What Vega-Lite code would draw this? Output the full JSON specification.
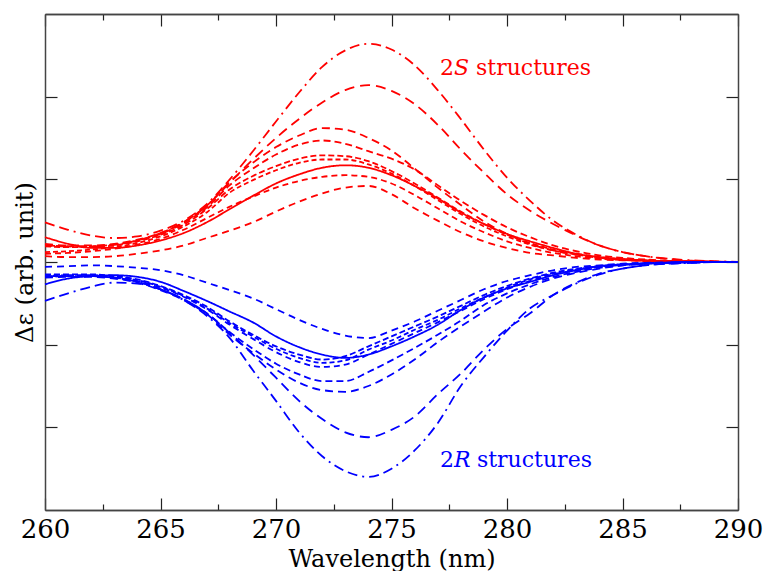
{
"$schema":"https://vega.github.io/schema/vega-lite/v6.json",
"width":693,"height":496,
"autosize":{"type":"none"},
"padding":{"left":45,"top":14,"right":26,"bottom":61},
"background":"white",
"config":{"view":{"stroke":null},"axis":{"labelFont":"DejaVu Serif","titleFont":"DejaVu Serif","labelFontSize":26,"titleFontSize":24,"labelColor":"#000","titleColor":"#000","titleFontWeight":"normal","domainColor":"#444","domainWidth":1.5,"tickColor":"#222","tickWidth":1.2,"grid":false,"labelFlush":false,"labelOverlap":false}},
"datasets":{
"curves":[
{"c":"rA","g":"S","x":260,"y":0.48},{"c":"rA","g":"S","x":261,"y":0.39},{"c":"rA","g":"S","x":262,"y":0.32},{"c":"rA","g":"S","x":263,"y":0.29},{"c":"rA","g":"S","x":264,"y":0.31},{"c":"rA","g":"S","x":265,"y":0.38},{"c":"rA","g":"S","x":266,"y":0.5},{"c":"rA","g":"S","x":267,"y":0.7},{"c":"rA","g":"S","x":268,"y":1.0},{"c":"rA","g":"S","x":269,"y":1.34},{"c":"rA","g":"S","x":270,"y":1.7},{"c":"rA","g":"S","x":271,"y":2.05},{"c":"rA","g":"S","x":272,"y":2.36},{"c":"rA","g":"S","x":273,"y":2.56},{"c":"rA","g":"S","x":274,"y":2.64},{"c":"rA","g":"S","x":275,"y":2.57},{"c":"rA","g":"S","x":276,"y":2.38},{"c":"rA","g":"S","x":277,"y":2.08},{"c":"rA","g":"S","x":278,"y":1.73},{"c":"rA","g":"S","x":279,"y":1.36},{"c":"rA","g":"S","x":280,"y":1.02},{"c":"rA","g":"S","x":281,"y":0.74},{"c":"rA","g":"S","x":282,"y":0.5},{"c":"rA","g":"S","x":283,"y":0.33},{"c":"rA","g":"S","x":284,"y":0.2},{"c":"rA","g":"S","x":285,"y":0.12},{"c":"rA","g":"S","x":286,"y":0.07},{"c":"rA","g":"S","x":287,"y":0.04},{"c":"rA","g":"S","x":288,"y":0.02},{"c":"rA","g":"S","x":289,"y":0.01},{"c":"rA","g":"S","x":290,"y":0},
{"c":"rB","g":"S","x":260,"y":0.2},{"c":"rB","g":"S","x":261,"y":0.19},{"c":"rB","g":"S","x":262,"y":0.19},{"c":"rB","g":"S","x":263,"y":0.21},{"c":"rB","g":"S","x":264,"y":0.26},{"c":"rB","g":"S","x":265,"y":0.35},{"c":"rB","g":"S","x":266,"y":0.48},{"c":"rB","g":"S","x":267,"y":0.68},{"c":"rB","g":"S","x":268,"y":0.96},{"c":"rB","g":"S","x":269,"y":1.24},{"c":"rB","g":"S","x":270,"y":1.5},{"c":"rB","g":"S","x":271,"y":1.73},{"c":"rB","g":"S","x":272,"y":1.93},{"c":"rB","g":"S","x":273,"y":2.08},{"c":"rB","g":"S","x":274,"y":2.14},{"c":"rB","g":"S","x":275,"y":2.07},{"c":"rB","g":"S","x":276,"y":1.91},{"c":"rB","g":"S","x":277,"y":1.66},{"c":"rB","g":"S","x":278,"y":1.36},{"c":"rB","g":"S","x":279,"y":1.08},{"c":"rB","g":"S","x":280,"y":0.82},{"c":"rB","g":"S","x":281,"y":0.62},{"c":"rB","g":"S","x":282,"y":0.46},{"c":"rB","g":"S","x":283,"y":0.32},{"c":"rB","g":"S","x":284,"y":0.2},{"c":"rB","g":"S","x":285,"y":0.12},{"c":"rB","g":"S","x":286,"y":0.07},{"c":"rB","g":"S","x":287,"y":0.035},{"c":"rB","g":"S","x":288,"y":0.015},{"c":"rB","g":"S","x":289,"y":0.005},{"c":"rB","g":"S","x":290,"y":0},
{"c":"rC","g":"S","x":260,"y":0.22},{"c":"rC","g":"S","x":261,"y":0.2},{"c":"rC","g":"S","x":262,"y":0.2},{"c":"rC","g":"S","x":263,"y":0.22},{"c":"rC","g":"S","x":264,"y":0.27},{"c":"rC","g":"S","x":265,"y":0.35},{"c":"rC","g":"S","x":266,"y":0.48},{"c":"rC","g":"S","x":267,"y":0.68},{"c":"rC","g":"S","x":268,"y":0.97},{"c":"rC","g":"S","x":269,"y":1.2},{"c":"rC","g":"S","x":270,"y":1.39},{"c":"rC","g":"S","x":271,"y":1.53},{"c":"rC","g":"S","x":272,"y":1.62},{"c":"rC","g":"S","x":273,"y":1.6},{"c":"rC","g":"S","x":274,"y":1.5},{"c":"rC","g":"S","x":275,"y":1.35},{"c":"rC","g":"S","x":276,"y":1.13},{"c":"rC","g":"S","x":277,"y":0.9},{"c":"rC","g":"S","x":278,"y":0.69},{"c":"rC","g":"S","x":279,"y":0.49},{"c":"rC","g":"S","x":280,"y":0.34},{"c":"rC","g":"S","x":281,"y":0.22},{"c":"rC","g":"S","x":282,"y":0.14},{"c":"rC","g":"S","x":283,"y":0.09},{"c":"rC","g":"S","x":284,"y":0.05},{"c":"rC","g":"S","x":285,"y":0.03},{"c":"rC","g":"S","x":286,"y":0.015},{"c":"rC","g":"S","x":287,"y":0.008},{"c":"rC","g":"S","x":288,"y":0.004},{"c":"rC","g":"S","x":289,"y":0},{"c":"rC","g":"S","x":290,"y":0},
{"c":"rD","g":"S","x":260,"y":0.2},{"c":"rD","g":"S","x":261,"y":0.19},{"c":"rD","g":"S","x":262,"y":0.19},{"c":"rD","g":"S","x":263,"y":0.21},{"c":"rD","g":"S","x":264,"y":0.26},{"c":"rD","g":"S","x":265,"y":0.34},{"c":"rD","g":"S","x":266,"y":0.47},{"c":"rD","g":"S","x":267,"y":0.66},{"c":"rD","g":"S","x":268,"y":0.93},{"c":"rD","g":"S","x":269,"y":1.13},{"c":"rD","g":"S","x":270,"y":1.3},{"c":"rD","g":"S","x":271,"y":1.42},{"c":"rD","g":"S","x":272,"y":1.47},{"c":"rD","g":"S","x":273,"y":1.43},{"c":"rD","g":"S","x":274,"y":1.34},{"c":"rD","g":"S","x":275,"y":1.25},{"c":"rD","g":"S","x":276,"y":1.12},{"c":"rD","g":"S","x":277,"y":0.93},{"c":"rD","g":"S","x":278,"y":0.74},{"c":"rD","g":"S","x":279,"y":0.57},{"c":"rD","g":"S","x":280,"y":0.42},{"c":"rD","g":"S","x":281,"y":0.3},{"c":"rD","g":"S","x":282,"y":0.2},{"c":"rD","g":"S","x":283,"y":0.13},{"c":"rD","g":"S","x":284,"y":0.08},{"c":"rD","g":"S","x":285,"y":0.05},{"c":"rD","g":"S","x":286,"y":0.03},{"c":"rD","g":"S","x":287,"y":0.015},{"c":"rD","g":"S","x":288,"y":0.008},{"c":"rD","g":"S","x":289,"y":0.003},{"c":"rD","g":"S","x":290,"y":0},
{"c":"rE","g":"S","x":260,"y":0.19},{"c":"rE","g":"S","x":261,"y":0.18},{"c":"rE","g":"S","x":262,"y":0.18},{"c":"rE","g":"S","x":263,"y":0.2},{"c":"rE","g":"S","x":264,"y":0.25},{"c":"rE","g":"S","x":265,"y":0.33},{"c":"rE","g":"S","x":266,"y":0.45},{"c":"rE","g":"S","x":267,"y":0.64},{"c":"rE","g":"S","x":268,"y":0.88},{"c":"rE","g":"S","x":269,"y":1.04},{"c":"rE","g":"S","x":270,"y":1.16},{"c":"rE","g":"S","x":271,"y":1.25},{"c":"rE","g":"S","x":272,"y":1.29},{"c":"rE","g":"S","x":273,"y":1.28},{"c":"rE","g":"S","x":274,"y":1.22},{"c":"rE","g":"S","x":275,"y":1.1},{"c":"rE","g":"S","x":276,"y":0.95},{"c":"rE","g":"S","x":277,"y":0.78},{"c":"rE","g":"S","x":278,"y":0.61},{"c":"rE","g":"S","x":279,"y":0.46},{"c":"rE","g":"S","x":280,"y":0.33},{"c":"rE","g":"S","x":281,"y":0.23},{"c":"rE","g":"S","x":282,"y":0.15},{"c":"rE","g":"S","x":283,"y":0.1},{"c":"rE","g":"S","x":284,"y":0.06},{"c":"rE","g":"S","x":285,"y":0.035},{"c":"rE","g":"S","x":286,"y":0.02},{"c":"rE","g":"S","x":287,"y":0.01},{"c":"rE","g":"S","x":288,"y":0.005},{"c":"rE","g":"S","x":289,"y":0},{"c":"rE","g":"S","x":290,"y":0},
{"c":"rF","g":"S","x":260,"y":0.12},{"c":"rF","g":"S","x":261,"y":0.13},{"c":"rF","g":"S","x":262,"y":0.15},{"c":"rF","g":"S","x":263,"y":0.18},{"c":"rF","g":"S","x":264,"y":0.23},{"c":"rF","g":"S","x":265,"y":0.31},{"c":"rF","g":"S","x":266,"y":0.43},{"c":"rF","g":"S","x":267,"y":0.6},{"c":"rF","g":"S","x":268,"y":0.84},{"c":"rF","g":"S","x":269,"y":0.99},{"c":"rF","g":"S","x":270,"y":1.11},{"c":"rF","g":"S","x":271,"y":1.2},{"c":"rF","g":"S","x":272,"y":1.24},{"c":"rF","g":"S","x":273,"y":1.24},{"c":"rF","g":"S","x":274,"y":1.18},{"c":"rF","g":"S","x":275,"y":1.07},{"c":"rF","g":"S","x":276,"y":0.92},{"c":"rF","g":"S","x":277,"y":0.75},{"c":"rF","g":"S","x":278,"y":0.58},{"c":"rF","g":"S","x":279,"y":0.43},{"c":"rF","g":"S","x":280,"y":0.31},{"c":"rF","g":"S","x":281,"y":0.21},{"c":"rF","g":"S","x":282,"y":0.14},{"c":"rF","g":"S","x":283,"y":0.09},{"c":"rF","g":"S","x":284,"y":0.055},{"c":"rF","g":"S","x":285,"y":0.03},{"c":"rF","g":"S","x":286,"y":0.018},{"c":"rF","g":"S","x":287,"y":0.01},{"c":"rF","g":"S","x":288,"y":0.005},{"c":"rF","g":"S","x":289,"y":0},{"c":"rF","g":"S","x":290,"y":0},
{"c":"rG","g":"S","x":260,"y":0.3},{"c":"rG","g":"S","x":261,"y":0.22},{"c":"rG","g":"S","x":262,"y":0.17},{"c":"rG","g":"S","x":263,"y":0.17},{"c":"rG","g":"S","x":264,"y":0.2},{"c":"rG","g":"S","x":265,"y":0.26},{"c":"rG","g":"S","x":266,"y":0.35},{"c":"rG","g":"S","x":267,"y":0.48},{"c":"rG","g":"S","x":268,"y":0.64},{"c":"rG","g":"S","x":269,"y":0.8},{"c":"rG","g":"S","x":270,"y":0.95},{"c":"rG","g":"S","x":271,"y":1.06},{"c":"rG","g":"S","x":272,"y":1.14},{"c":"rG","g":"S","x":273,"y":1.17},{"c":"rG","g":"S","x":274,"y":1.14},{"c":"rG","g":"S","x":275,"y":1.05},{"c":"rG","g":"S","x":276,"y":0.92},{"c":"rG","g":"S","x":277,"y":0.77},{"c":"rG","g":"S","x":278,"y":0.6},{"c":"rG","g":"S","x":279,"y":0.46},{"c":"rG","g":"S","x":280,"y":0.34},{"c":"rG","g":"S","x":281,"y":0.25},{"c":"rG","g":"S","x":282,"y":0.17},{"c":"rG","g":"S","x":283,"y":0.1},{"c":"rG","g":"S","x":284,"y":0.06},{"c":"rG","g":"S","x":285,"y":0.035},{"c":"rG","g":"S","x":286,"y":0.02},{"c":"rG","g":"S","x":287,"y":0.01},{"c":"rG","g":"S","x":288,"y":0.005},{"c":"rG","g":"S","x":289,"y":0},{"c":"rG","g":"S","x":290,"y":0},
{"c":"rH","g":"S","x":260,"y":0.1},{"c":"rH","g":"S","x":261,"y":0.11},{"c":"rH","g":"S","x":262,"y":0.13},{"c":"rH","g":"S","x":263,"y":0.16},{"c":"rH","g":"S","x":264,"y":0.21},{"c":"rH","g":"S","x":265,"y":0.28},{"c":"rH","g":"S","x":266,"y":0.39},{"c":"rH","g":"S","x":267,"y":0.53},{"c":"rH","g":"S","x":268,"y":0.67},{"c":"rH","g":"S","x":269,"y":0.79},{"c":"rH","g":"S","x":270,"y":0.9},{"c":"rH","g":"S","x":271,"y":0.98},{"c":"rH","g":"S","x":272,"y":1.03},{"c":"rH","g":"S","x":273,"y":1.05},{"c":"rH","g":"S","x":274,"y":1.03},{"c":"rH","g":"S","x":275,"y":0.95},{"c":"rH","g":"S","x":276,"y":0.81},{"c":"rH","g":"S","x":277,"y":0.65},{"c":"rH","g":"S","x":278,"y":0.49},{"c":"rH","g":"S","x":279,"y":0.36},{"c":"rH","g":"S","x":280,"y":0.25},{"c":"rH","g":"S","x":281,"y":0.17},{"c":"rH","g":"S","x":282,"y":0.11},{"c":"rH","g":"S","x":283,"y":0.07},{"c":"rH","g":"S","x":284,"y":0.04},{"c":"rH","g":"S","x":285,"y":0.025},{"c":"rH","g":"S","x":286,"y":0.015},{"c":"rH","g":"S","x":287,"y":0.008},{"c":"rH","g":"S","x":288,"y":0.004},{"c":"rH","g":"S","x":289,"y":0},{"c":"rH","g":"S","x":290,"y":0},
{"c":"rI","g":"S","x":260,"y":0.07},{"c":"rI","g":"S","x":261,"y":0.06},{"c":"rI","g":"S","x":262,"y":0.06},{"c":"rI","g":"S","x":263,"y":0.07},{"c":"rI","g":"S","x":264,"y":0.1},{"c":"rI","g":"S","x":265,"y":0.14},{"c":"rI","g":"S","x":266,"y":0.2},{"c":"rI","g":"S","x":267,"y":0.29},{"c":"rI","g":"S","x":268,"y":0.38},{"c":"rI","g":"S","x":269,"y":0.48},{"c":"rI","g":"S","x":270,"y":0.61},{"c":"rI","g":"S","x":271,"y":0.73},{"c":"rI","g":"S","x":272,"y":0.83},{"c":"rI","g":"S","x":273,"y":0.9},{"c":"rI","g":"S","x":274,"y":0.92},{"c":"rI","g":"S","x":275,"y":0.82},{"c":"rI","g":"S","x":276,"y":0.65},{"c":"rI","g":"S","x":277,"y":0.5},{"c":"rI","g":"S","x":278,"y":0.36},{"c":"rI","g":"S","x":279,"y":0.25},{"c":"rI","g":"S","x":280,"y":0.17},{"c":"rI","g":"S","x":281,"y":0.11},{"c":"rI","g":"S","x":282,"y":0.08},{"c":"rI","g":"S","x":283,"y":0.05},{"c":"rI","g":"S","x":284,"y":0.03},{"c":"rI","g":"S","x":285,"y":0.02},{"c":"rI","g":"S","x":286,"y":0.01},{"c":"rI","g":"S","x":287,"y":0.005},{"c":"rI","g":"S","x":288,"y":0},{"c":"rI","g":"S","x":289,"y":0},{"c":"rI","g":"S","x":290,"y":0},
{"c":"bT","g":"R","x":260,"y":-0.06},{"c":"bT","g":"R","x":261,"y":-0.05},{"c":"bT","g":"R","x":262,"y":-0.04},{"c":"bT","g":"R","x":263,"y":-0.05},{"c":"bT","g":"R","x":264,"y":-0.07},{"c":"bT","g":"R","x":265,"y":-0.1},{"c":"bT","g":"R","x":266,"y":-0.16},{"c":"bT","g":"R","x":267,"y":-0.25},{"c":"bT","g":"R","x":268,"y":-0.34},{"c":"bT","g":"R","x":269,"y":-0.44},{"c":"bT","g":"R","x":270,"y":-0.57},{"c":"bT","g":"R","x":271,"y":-0.7},{"c":"bT","g":"R","x":272,"y":-0.81},{"c":"bT","g":"R","x":273,"y":-0.89},{"c":"bT","g":"R","x":274,"y":-0.92},{"c":"bT","g":"R","x":275,"y":-0.83},{"c":"bT","g":"R","x":276,"y":-0.72},{"c":"bT","g":"R","x":277,"y":-0.59},{"c":"bT","g":"R","x":278,"y":-0.46},{"c":"bT","g":"R","x":279,"y":-0.33},{"c":"bT","g":"R","x":280,"y":-0.23},{"c":"bT","g":"R","x":281,"y":-0.16},{"c":"bT","g":"R","x":282,"y":-0.1},{"c":"bT","g":"R","x":283,"y":-0.06},{"c":"bT","g":"R","x":284,"y":-0.04},{"c":"bT","g":"R","x":285,"y":-0.02},{"c":"bT","g":"R","x":286,"y":-0.01},{"c":"bT","g":"R","x":287,"y":-0.005},{"c":"bT","g":"R","x":288,"y":0},{"c":"bT","g":"R","x":289,"y":0},{"c":"bT","g":"R","x":290,"y":0},
{"c":"bS","g":"R","x":260,"y":-0.27},{"c":"bS","g":"R","x":261,"y":-0.2},{"c":"bS","g":"R","x":262,"y":-0.17},{"c":"bS","g":"R","x":263,"y":-0.16},{"c":"bS","g":"R","x":264,"y":-0.18},{"c":"bS","g":"R","x":265,"y":-0.24},{"c":"bS","g":"R","x":266,"y":-0.35},{"c":"bS","g":"R","x":267,"y":-0.47},{"c":"bS","g":"R","x":268,"y":-0.6},{"c":"bS","g":"R","x":269,"y":-0.73},{"c":"bS","g":"R","x":270,"y":-0.9},{"c":"bS","g":"R","x":271,"y":-1.03},{"c":"bS","g":"R","x":272,"y":-1.12},{"c":"bS","g":"R","x":273,"y":-1.16},{"c":"bS","g":"R","x":274,"y":-1.12},{"c":"bS","g":"R","x":275,"y":-1.02},{"c":"bS","g":"R","x":276,"y":-0.9},{"c":"bS","g":"R","x":277,"y":-0.76},{"c":"bS","g":"R","x":278,"y":-0.58},{"c":"bS","g":"R","x":279,"y":-0.43},{"c":"bS","g":"R","x":280,"y":-0.32},{"c":"bS","g":"R","x":281,"y":-0.24},{"c":"bS","g":"R","x":282,"y":-0.16},{"c":"bS","g":"R","x":283,"y":-0.1},{"c":"bS","g":"R","x":284,"y":-0.05},{"c":"bS","g":"R","x":285,"y":-0.03},{"c":"bS","g":"R","x":286,"y":-0.02},{"c":"bS","g":"R","x":287,"y":-0.01},{"c":"bS","g":"R","x":288,"y":-0.005},{"c":"bS","g":"R","x":289,"y":0},{"c":"bS","g":"R","x":290,"y":0},
{"c":"bR1","g":"R","x":260,"y":-0.15},{"c":"bR1","g":"R","x":261,"y":-0.15},{"c":"bR1","g":"R","x":262,"y":-0.15},{"c":"bR1","g":"R","x":263,"y":-0.17},{"c":"bR1","g":"R","x":264,"y":-0.21},{"c":"bR1","g":"R","x":265,"y":-0.29},{"c":"bR1","g":"R","x":266,"y":-0.4},{"c":"bR1","g":"R","x":267,"y":-0.54},{"c":"bR1","g":"R","x":268,"y":-0.72},{"c":"bR1","g":"R","x":269,"y":-0.88},{"c":"bR1","g":"R","x":270,"y":-1.02},{"c":"bR1","g":"R","x":271,"y":-1.12},{"c":"bR1","g":"R","x":272,"y":-1.18},{"c":"bR1","g":"R","x":273,"y":-1.14},{"c":"bR1","g":"R","x":274,"y":-1.02},{"c":"bR1","g":"R","x":275,"y":-0.9},{"c":"bR1","g":"R","x":276,"y":-0.78},{"c":"bR1","g":"R","x":277,"y":-0.66},{"c":"bR1","g":"R","x":278,"y":-0.53},{"c":"bR1","g":"R","x":279,"y":-0.4},{"c":"bR1","g":"R","x":280,"y":-0.29},{"c":"bR1","g":"R","x":281,"y":-0.2},{"c":"bR1","g":"R","x":282,"y":-0.13},{"c":"bR1","g":"R","x":283,"y":-0.08},{"c":"bR1","g":"R","x":284,"y":-0.05},{"c":"bR1","g":"R","x":285,"y":-0.03},{"c":"bR1","g":"R","x":286,"y":-0.015},{"c":"bR1","g":"R","x":287,"y":-0.007},{"c":"bR1","g":"R","x":288,"y":0},{"c":"bR1","g":"R","x":289,"y":0},{"c":"bR1","g":"R","x":290,"y":0},
{"c":"bR2","g":"R","x":260,"y":-0.17},{"c":"bR2","g":"R","x":261,"y":-0.16},{"c":"bR2","g":"R","x":262,"y":-0.16},{"c":"bR2","g":"R","x":263,"y":-0.18},{"c":"bR2","g":"R","x":264,"y":-0.22},{"c":"bR2","g":"R","x":265,"y":-0.3},{"c":"bR2","g":"R","x":266,"y":-0.41},{"c":"bR2","g":"R","x":267,"y":-0.56},{"c":"bR2","g":"R","x":268,"y":-0.74},{"c":"bR2","g":"R","x":269,"y":-0.9},{"c":"bR2","g":"R","x":270,"y":-1.05},{"c":"bR2","g":"R","x":271,"y":-1.16},{"c":"bR2","g":"R","x":272,"y":-1.22},{"c":"bR2","g":"R","x":273,"y":-1.19},{"c":"bR2","g":"R","x":274,"y":-1.06},{"c":"bR2","g":"R","x":275,"y":-0.95},{"c":"bR2","g":"R","x":276,"y":-0.82},{"c":"bR2","g":"R","x":277,"y":-0.7},{"c":"bR2","g":"R","x":278,"y":-0.56},{"c":"bR2","g":"R","x":279,"y":-0.43},{"c":"bR2","g":"R","x":280,"y":-0.31},{"c":"bR2","g":"R","x":281,"y":-0.21},{"c":"bR2","g":"R","x":282,"y":-0.14},{"c":"bR2","g":"R","x":283,"y":-0.09},{"c":"bR2","g":"R","x":284,"y":-0.05},{"c":"bR2","g":"R","x":285,"y":-0.03},{"c":"bR2","g":"R","x":286,"y":-0.015},{"c":"bR2","g":"R","x":287,"y":-0.007},{"c":"bR2","g":"R","x":288,"y":0},{"c":"bR2","g":"R","x":289,"y":0},{"c":"bR2","g":"R","x":290,"y":0},
{"c":"bR3","g":"R","x":260,"y":-0.18},{"c":"bR3","g":"R","x":261,"y":-0.17},{"c":"bR3","g":"R","x":262,"y":-0.17},{"c":"bR3","g":"R","x":263,"y":-0.19},{"c":"bR3","g":"R","x":264,"y":-0.23},{"c":"bR3","g":"R","x":265,"y":-0.31},{"c":"bR3","g":"R","x":266,"y":-0.42},{"c":"bR3","g":"R","x":267,"y":-0.57},{"c":"bR3","g":"R","x":268,"y":-0.76},{"c":"bR3","g":"R","x":269,"y":-0.93},{"c":"bR3","g":"R","x":270,"y":-1.09},{"c":"bR3","g":"R","x":271,"y":-1.21},{"c":"bR3","g":"R","x":272,"y":-1.27},{"c":"bR3","g":"R","x":273,"y":-1.24},{"c":"bR3","g":"R","x":274,"y":-1.12},{"c":"bR3","g":"R","x":275,"y":-0.99},{"c":"bR3","g":"R","x":276,"y":-0.86},{"c":"bR3","g":"R","x":277,"y":-0.73},{"c":"bR3","g":"R","x":278,"y":-0.59},{"c":"bR3","g":"R","x":279,"y":-0.45},{"c":"bR3","g":"R","x":280,"y":-0.33},{"c":"bR3","g":"R","x":281,"y":-0.23},{"c":"bR3","g":"R","x":282,"y":-0.15},{"c":"bR3","g":"R","x":283,"y":-0.1},{"c":"bR3","g":"R","x":284,"y":-0.06},{"c":"bR3","g":"R","x":285,"y":-0.035},{"c":"bR3","g":"R","x":286,"y":-0.02},{"c":"bR3","g":"R","x":287,"y":-0.01},{"c":"bR3","g":"R","x":288,"y":0},{"c":"bR3","g":"R","x":289,"y":0},{"c":"bR3","g":"R","x":290,"y":0},
{"c":"bP","g":"R","x":260,"y":-0.18},{"c":"bP","g":"R","x":261,"y":-0.17},{"c":"bP","g":"R","x":262,"y":-0.17},{"c":"bP","g":"R","x":263,"y":-0.19},{"c":"bP","g":"R","x":264,"y":-0.24},{"c":"bP","g":"R","x":265,"y":-0.33},{"c":"bP","g":"R","x":266,"y":-0.45},{"c":"bP","g":"R","x":267,"y":-0.62},{"c":"bP","g":"R","x":268,"y":-0.85},{"c":"bP","g":"R","x":269,"y":-1.05},{"c":"bP","g":"R","x":270,"y":-1.23},{"c":"bP","g":"R","x":271,"y":-1.36},{"c":"bP","g":"R","x":272,"y":-1.44},{"c":"bP","g":"R","x":273,"y":-1.44},{"c":"bP","g":"R","x":274,"y":-1.33},{"c":"bP","g":"R","x":275,"y":-1.19},{"c":"bP","g":"R","x":276,"y":-1.04},{"c":"bP","g":"R","x":277,"y":-0.88},{"c":"bP","g":"R","x":278,"y":-0.71},{"c":"bP","g":"R","x":279,"y":-0.52},{"c":"bP","g":"R","x":280,"y":-0.38},{"c":"bP","g":"R","x":281,"y":-0.27},{"c":"bP","g":"R","x":282,"y":-0.18},{"c":"bP","g":"R","x":283,"y":-0.12},{"c":"bP","g":"R","x":284,"y":-0.07},{"c":"bP","g":"R","x":285,"y":-0.04},{"c":"bP","g":"R","x":286,"y":-0.02},{"c":"bP","g":"R","x":287,"y":-0.01},{"c":"bP","g":"R","x":288,"y":0},{"c":"bP","g":"R","x":289,"y":0},{"c":"bP","g":"R","x":290,"y":0},
{"c":"bQ","g":"R","x":260,"y":-0.19},{"c":"bQ","g":"R","x":261,"y":-0.18},{"c":"bQ","g":"R","x":262,"y":-0.18},{"c":"bQ","g":"R","x":263,"y":-0.2},{"c":"bQ","g":"R","x":264,"y":-0.25},{"c":"bQ","g":"R","x":265,"y":-0.34},{"c":"bQ","g":"R","x":266,"y":-0.46},{"c":"bQ","g":"R","x":267,"y":-0.63},{"c":"bQ","g":"R","x":268,"y":-0.88},{"c":"bQ","g":"R","x":269,"y":-1.1},{"c":"bQ","g":"R","x":270,"y":-1.3},{"c":"bQ","g":"R","x":271,"y":-1.46},{"c":"bQ","g":"R","x":272,"y":-1.55},{"c":"bQ","g":"R","x":273,"y":-1.57},{"c":"bQ","g":"R","x":274,"y":-1.5},{"c":"bQ","g":"R","x":275,"y":-1.36},{"c":"bQ","g":"R","x":276,"y":-1.18},{"c":"bQ","g":"R","x":277,"y":-0.97},{"c":"bQ","g":"R","x":278,"y":-0.78},{"c":"bQ","g":"R","x":279,"y":-0.6},{"c":"bQ","g":"R","x":280,"y":-0.43},{"c":"bQ","g":"R","x":281,"y":-0.3},{"c":"bQ","g":"R","x":282,"y":-0.2},{"c":"bQ","g":"R","x":283,"y":-0.13},{"c":"bQ","g":"R","x":284,"y":-0.08},{"c":"bQ","g":"R","x":285,"y":-0.04},{"c":"bQ","g":"R","x":286,"y":-0.02},{"c":"bQ","g":"R","x":287,"y":-0.01},{"c":"bQ","g":"R","x":288,"y":0},{"c":"bQ","g":"R","x":289,"y":0},{"c":"bQ","g":"R","x":290,"y":0},
{"c":"bX","g":"R","x":260,"y":-0.17},{"c":"bX","g":"R","x":261,"y":-0.17},{"c":"bX","g":"R","x":262,"y":-0.17},{"c":"bX","g":"R","x":263,"y":-0.19},{"c":"bX","g":"R","x":264,"y":-0.24},{"c":"bX","g":"R","x":265,"y":-0.33},{"c":"bX","g":"R","x":266,"y":-0.45},{"c":"bX","g":"R","x":267,"y":-0.62},{"c":"bX","g":"R","x":268,"y":-0.86},{"c":"bX","g":"R","x":269,"y":-1.12},{"c":"bX","g":"R","x":270,"y":-1.4},{"c":"bX","g":"R","x":271,"y":-1.68},{"c":"bX","g":"R","x":272,"y":-1.9},{"c":"bX","g":"R","x":273,"y":-2.06},{"c":"bX","g":"R","x":274,"y":-2.12},{"c":"bX","g":"R","x":275,"y":-2.03},{"c":"bX","g":"R","x":276,"y":-1.87},{"c":"bX","g":"R","x":277,"y":-1.6},{"c":"bX","g":"R","x":278,"y":-1.35},{"c":"bX","g":"R","x":279,"y":-1.06},{"c":"bX","g":"R","x":280,"y":-0.81},{"c":"bX","g":"R","x":281,"y":-0.62},{"c":"bX","g":"R","x":282,"y":-0.4},{"c":"bX","g":"R","x":283,"y":-0.25},{"c":"bX","g":"R","x":284,"y":-0.14},{"c":"bX","g":"R","x":285,"y":-0.08},{"c":"bX","g":"R","x":286,"y":-0.04},{"c":"bX","g":"R","x":287,"y":-0.02},{"c":"bX","g":"R","x":288,"y":-0.01},{"c":"bX","g":"R","x":289,"y":0},{"c":"bX","g":"R","x":290,"y":0},
{"c":"bY","g":"R","x":260,"y":-0.47},{"c":"bY","g":"R","x":261,"y":-0.38},{"c":"bY","g":"R","x":262,"y":-0.3},{"c":"bY","g":"R","x":263,"y":-0.25},{"c":"bY","g":"R","x":264,"y":-0.26},{"c":"bY","g":"R","x":265,"y":-0.33},{"c":"bY","g":"R","x":266,"y":-0.46},{"c":"bY","g":"R","x":267,"y":-0.65},{"c":"bY","g":"R","x":268,"y":-0.92},{"c":"bY","g":"R","x":269,"y":-1.31},{"c":"bY","g":"R","x":270,"y":-1.68},{"c":"bY","g":"R","x":271,"y":-2.06},{"c":"bY","g":"R","x":272,"y":-2.35},{"c":"bY","g":"R","x":273,"y":-2.53},{"c":"bY","g":"R","x":274,"y":-2.6},{"c":"bY","g":"R","x":275,"y":-2.5},{"c":"bY","g":"R","x":276,"y":-2.28},{"c":"bY","g":"R","x":277,"y":-1.95},{"c":"bY","g":"R","x":278,"y":-1.5},{"c":"bY","g":"R","x":279,"y":-1.15},{"c":"bY","g":"R","x":280,"y":-0.83},{"c":"bY","g":"R","x":281,"y":-0.56},{"c":"bY","g":"R","x":282,"y":-0.4},{"c":"bY","g":"R","x":283,"y":-0.26},{"c":"bY","g":"R","x":284,"y":-0.15},{"c":"bY","g":"R","x":285,"y":-0.08},{"c":"bY","g":"R","x":286,"y":-0.04},{"c":"bY","g":"R","x":287,"y":-0.02},{"c":"bY","g":"R","x":288,"y":-0.01},{"c":"bY","g":"R","x":289,"y":0},{"c":"bY","g":"R","x":290,"y":0}
],
"regular":[{"g":"S","x":277.1,"y":2.261,"t":"2"},{"g":"S","x":278.66,"y":2.261,"t":"structures"},{"g":"R","x":277.1,"y":-2.479,"t":"2"},{"g":"R","x":278.7,"y":-2.479,"t":"structures"}],
"italic":[{"g":"S","x":277.71,"y":2.261,"t":"S"},{"g":"R","x":277.71,"y":-2.479,"t":"R"}]
},
"resolve":{"scale":{"x":"shared","y":"shared","color":"shared"},"axis":{"x":"independent","y":"independent"}},
"layer":[
{"data":{"name":"curves"},"transform":[{"filter":"datum.g == 'S'"}],
 "mark":{"type":"line","interpolate":"monotone","strokeWidth":1.8},
 "encoding":{
  "x":{"field":"x","type":"quantitative","scale":{"domain":[260,290],"nice":false,"zero":false},"axis":{"orient":"bottom","values":[260,265,270,275,280,285,290],"tickSize":-12,"labelPadding":18,"title":"Wavelength (nm)","titlePadding":5}},
  "y":{"field":"y","type":"quantitative","scale":{"domain":[-3,3],"nice":false,"zero":false},"axis":{"orient":"left","values":[-2,-1,0,1,2],"tickSize":-12,"labels":false,"title":"Δε (arb. unit)","titlePadding":7}},
  "color":{"field":"g","type":"nominal","scale":{"domain":["S","R"],"range":["#ff0000","#0000ff"]},"legend":null},
  "strokeDash":{"field":"c","type":"nominal","scale":{"domain":["rA","rB","rC","rD","rE","rF","rG","rH","rI","bT","bS","bR1","bR2","bR3","bP","bQ","bX","bY"],"range":[[10,5,10,5,2,5],[10,6],[8,5],[7,4],[6,3],[5,3],[1,0],[6,4],[7,5],[7,5],[1,0],[6,3],[5,3],[6,4],[7,4],[8,5],[10,6],[10,5,10,5,2,5]]},"legend":null}
 }},
{"data":{"name":"curves"},"transform":[{"filter":"datum.g == 'R'"}],
 "mark":{"type":"line","interpolate":"monotone","strokeWidth":1.8},
 "encoding":{
  "x":{"field":"x","type":"quantitative","axis":{"orient":"bottom","values":[262.5,267.5,272.5,277.5,282.5,287.5],"tickSize":-6,"labels":false,"title":null}},
  "y":{"field":"y","type":"quantitative","axis":{"orient":"right","values":[-2,-1,0,1,2],"tickSize":-12,"labels":false,"title":null}},
  "color":{"field":"g","type":"nominal","legend":null},
  "strokeDash":{"field":"c","type":"nominal","legend":null}
 }},
{"data":{"name":"regular"},
 "mark":{"type":"text","align":"left","baseline":"alphabetic","font":"DejaVu Serif","fontSize":22},
 "encoding":{
  "x":{"field":"x","type":"quantitative","axis":{"orient":"top","values":[260,265,270,275,280,285,290],"tickSize":-12,"labels":false,"title":null}},
  "y":{"field":"y","type":"quantitative","axis":null},
  "text":{"field":"t"},
  "color":{"field":"g","type":"nominal","legend":null}
 }},
{"data":{"name":"italic"},
 "mark":{"type":"text","align":"left","baseline":"alphabetic","font":"DejaVu Serif","fontSize":22,"fontStyle":"italic"},
 "encoding":{
  "x":{"field":"x","type":"quantitative","axis":{"orient":"top","values":[262.5,267.5,272.5,277.5,282.5,287.5],"tickSize":-6,"labels":false,"title":null}},
  "y":{"field":"y","type":"quantitative","axis":null},
  "text":{"field":"t"},
  "color":{"field":"g","type":"nominal","legend":null}
 }}
]
}
